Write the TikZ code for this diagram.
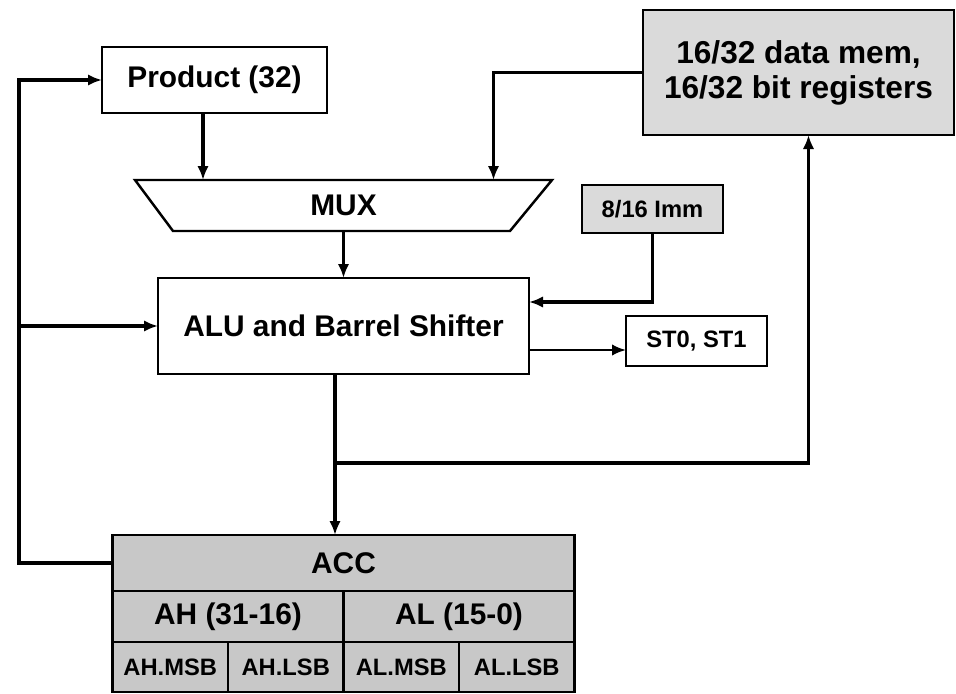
\documentclass[tikz,border=0pt]{standalone}
\usepackage{fontspec}
\setmainfont{Liberation Sans}
\usepackage{xcolor}
\usetikzlibrary{arrows.meta,positioning}
\definecolor{memgray}{RGB}{218,218,218}
\definecolor{accgray}{RGB}{200,200,200}

\begin{document}
\begin{tikzpicture}[
box/.style={draw, line width=1.4pt, fill=white, outer sep=0pt, minimum width=4.5cm, minimum height=1.32cm, align=center, font=\fontsize{17}{20}\selectfont\bfseries},
gbox/.style={box, fill=memgray},
cell/.style={draw, line width=1.4pt, fill=accgray, outer sep=0pt, inner sep=0pt, font=\fontsize{17}{20}\selectfont\bfseries},
small/.style={font=\fontsize{13.5}{16}\selectfont\bfseries},
arrow/.style={-{Latex[length=2.8mm,width=2.3mm]}, line width=1.9pt}
]
\useasboundingbox (0,0) rectangle (19.12,-13.86);

\node[box] (prod) at (4.29,-1.6) {Product (32)};
\node[box, draw=none, fill=none, minimum width=8.34cm, minimum height=1.02cm, below=1.34cm of prod, xshift=2.58cm] (mux) {MUX};
\draw[line width=1.4pt] (mux.north west) -- (mux.north east) -- ([xshift=-0.84cm]mux.south east) -- ([xshift=0.76cm]mux.south west) -- cycle;
\node[box, minimum width=7.42cm, minimum height=1.92cm, below=0.94cm of mux] (alu) {ALU and Barrel Shifter};
\node[gbox, minimum width=6.22cm, minimum height=2.5cm, font=\fontsize{18}{20}\selectfont\bfseries, right=6.32cm of prod, yshift=0.15cm] (dm) {16/32 data mem,\\16/32 bit registers};
\node[gbox, small, minimum width=2.82cm, minimum height=0.96cm, right=0.6cm of mux, yshift=-0.07cm] (imm) {8/16 Imm};
\node[box, small, minimum width=2.82cm, minimum height=1.0cm, right=1.94cm of alu, yshift=-0.3cm] (st) {ST0, ST1};

% accumulator
\node[cell, minimum width=9.24cm, minimum height=1.12cm, below=3.22cm of alu] (acc) {ACC};
\node[cell, minimum width=4.62cm, minimum height=1.02cm, anchor=north west] (ah) at (acc.south west) {AH (31-16)};
\node[cell, minimum width=4.62cm, minimum height=1.02cm, right=0pt of ah] (al) {AL (15-0)};
\node[cell, small, minimum width=2.31cm, minimum height=1.0cm, anchor=north west] (ahm) at (ah.south west) {AH.MSB};
\node[cell, small, minimum width=2.31cm, minimum height=1.0cm, right=0pt of ahm] (ahl) {AH.LSB};
\node[cell, small, minimum width=2.31cm, minimum height=1.0cm, right=0pt of ahl] (alm) {AL.MSB};
\node[cell, small, minimum width=2.31cm, minimum height=1.0cm, right=0pt of alm] (all) {AL.LSB};

\coordinate (fb) at (0.38,0);
\coordinate (aluout) at ([xshift=-0.17cm]alu.south);
\coordinate (tap) at ([yshift=-1.78cm]aluout);

\draw[arrow] ([xshift=-0.23cm]prod.south) -- ([xshift=-0.23cm]prod.south |- mux.north);
\draw[arrow] (dm.west) -| ([xshift=3cm]mux.north);
\draw[arrow] (mux.south) -- (mux.south |- alu.north);
\draw[arrow] (imm.south) |- ([yshift=0.48cm]alu.east);
\draw[arrow, line width=1.4pt] ([yshift=-0.48cm]alu.east) -- ([yshift=-0.48cm]alu.east -| st.west);
\draw[arrow] (aluout) -- (aluout |- acc.north);
\draw[arrow] (tap) -| ([xshift=0.2cm]dm.south);
\draw[arrow] (acc.west) -| (fb |- prod.west) -- (prod.west);
\draw[arrow] (fb |- alu.west) -- (alu.west);
\end{tikzpicture}
\end{document}
